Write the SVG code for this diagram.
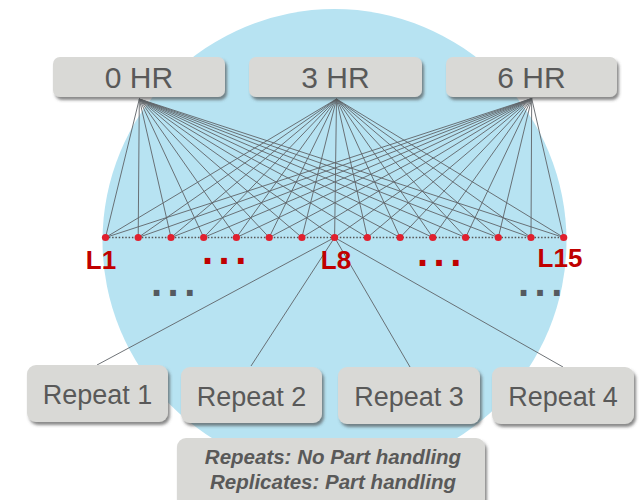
<svg xmlns="http://www.w3.org/2000/svg" width="641" height="500" viewBox="0 0 641 500">
<defs>
<filter id="sh" x="-10%" y="-20%" width="125%" height="160%">
<feDropShadow dx="2" dy="3" stdDeviation="1.6" flood-color="#4a4a4a" flood-opacity="0.65"/>
</filter>
<style>
.box{fill:#d9d9d6;filter:url(#sh)}
.t{font-family:"Liberation Sans",Arial,sans-serif;fill:#595959;text-anchor:middle}
.hr{font-size:30px}
.rp{font-size:27px}
.nt{font-size:20.5px;font-weight:bold;font-style:italic}
.ln{stroke:#5f6368;stroke-width:0.9;fill:none}
.dot{fill:#e0202e}
.lab{font-family:"Liberation Sans",Arial,sans-serif;font-weight:bold;fill:#c00000;font-size:26px;text-anchor:middle}
.ell{font-family:"Liberation Sans",Arial,sans-serif;font-weight:bold;font-size:40px;letter-spacing:5.5px}
</style>
</defs>
<rect width="641" height="500" fill="#ffffff"/>
<circle cx="334.5" cy="241" r="232" fill="#b7e3f2"/>
<g id="connectors">
<g class="ln">
<path id="fan0" d="M139.3 99L105.5 237.5M139.3 99L138.2 237.5M139.3 99L171 237.5M139.3 99L203.7 237.5M139.3 99L236.4 237.5M139.3 99L269.2 237.5M139.3 99L301.9 237.5M139.3 99L334.6 237.5M139.3 99L367.4 237.5M139.3 99L400.1 237.5M139.3 99L432.8 237.5M139.3 99L465.6 237.5M139.3 99L498.3 237.5M139.3 99L531 237.5M139.3 99L563.7 237.5"/>
<path id="fan3" d="M336.5 99L105.5 237.5M336.5 99L138.2 237.5M336.5 99L171 237.5M336.5 99L203.7 237.5M336.5 99L236.4 237.5M336.5 99L269.2 237.5M336.5 99L301.9 237.5M336.5 99L334.6 237.5M336.5 99L367.4 237.5M336.5 99L400.1 237.5M336.5 99L432.8 237.5M336.5 99L465.6 237.5M336.5 99L498.3 237.5M336.5 99L531 237.5M336.5 99L563.7 237.5"/>
<path id="fan6" d="M531.7 98.5L105.5 237.5M531.7 98.5L138.2 237.5M531.7 98.5L171 237.5M531.7 98.5L203.7 237.5M531.7 98.5L236.4 237.5M531.7 98.5L269.2 237.5M531.7 98.5L301.9 237.5M531.7 98.5L334.6 237.5M531.7 98.5L367.4 237.5M531.7 98.5L400.1 237.5M531.7 98.5L432.8 237.5M531.7 98.5L465.6 237.5M531.7 98.5L498.3 237.5M531.7 98.5L531 237.5M531.7 98.5L563.7 237.5"/>
<path id="rep" d="M334.6 237.5L97 365M334.6 237.5L251 366M334.6 237.5L410 367M334.6 237.5L563 367"/>
</g>
<line x1="105.5" y1="237.5" x2="563.7" y2="237.5" stroke="#555" stroke-width="1.3" stroke-dasharray="1.5 1.8"/>
</g>
<g id="dots" class="dot">
<circle cx="105.5" cy="237.5" r="3.6"/><circle cx="138.2" cy="237.5" r="3.6"/><circle cx="171" cy="237.5" r="3.6"/><circle cx="203.7" cy="237.5" r="3.6"/><circle cx="236.4" cy="237.5" r="3.6"/><circle cx="269.2" cy="237.5" r="3.6"/><circle cx="301.9" cy="237.5" r="3.6"/><circle cx="334.6" cy="237.5" r="3.6"/><circle cx="367.4" cy="237.5" r="3.6"/><circle cx="400.1" cy="237.5" r="3.6"/><circle cx="432.8" cy="237.5" r="3.6"/><circle cx="465.6" cy="237.5" r="3.6"/><circle cx="498.3" cy="237.5" r="3.6"/><circle cx="531" cy="237.5" r="3.6"/><circle cx="563.7" cy="237.5" r="3.6"/>
</g>
<g id="labels">
<text class="lab" x="101" y="269">L1</text>
<text class="lab" x="336" y="269">L8</text>
<text class="lab" x="560" y="267">L15</text>
<text class="ell" x="202" y="264" fill="#c00000">...</text>
<text class="ell" x="417" y="266" fill="#c00000">...</text>
<text class="ell" x="151" y="296" fill="#555a60">...</text>
<text class="ell" x="518" y="296" fill="#555a60">...</text>
</g>
<g id="hr0"><rect class="box" x="53" y="57" width="172" height="40" rx="7"/><text class="t hr" x="139" y="88">0 HR</text></g>
<g id="hr3"><rect class="box" x="249" y="57" width="173" height="40" rx="7"/><text class="t hr" x="335.5" y="88">3 HR</text></g>
<g id="hr6"><rect class="box" x="446" y="57" width="171" height="40" rx="7"/><text class="t hr" x="531.5" y="88">6 HR</text></g>
<g id="repeat1"><rect class="box" x="27" y="365" width="141" height="57" rx="9"/><text class="t rp" x="97.5" y="404">Repeat 1</text></g>
<g id="repeat2"><rect class="box" x="181" y="367" width="141" height="56" rx="9"/><text class="t rp" x="251.5" y="406">Repeat 2</text></g>
<g id="repeat3"><rect class="box" x="338" y="367" width="142" height="57" rx="9"/><text class="t rp" x="409" y="406">Repeat 3</text></g>
<g id="repeat4"><rect class="box" x="492" y="367" width="142" height="57" rx="9"/><text class="t rp" x="563" y="406">Repeat 4</text></g>
<g id="note"><rect class="box" x="177" y="438" width="308" height="70" rx="9"/>
<text class="t nt" x="333" y="464">Repeats: No Part handling</text>
<text class="t nt" x="333" y="489">Replicates: Part handling</text></g>
</svg>
